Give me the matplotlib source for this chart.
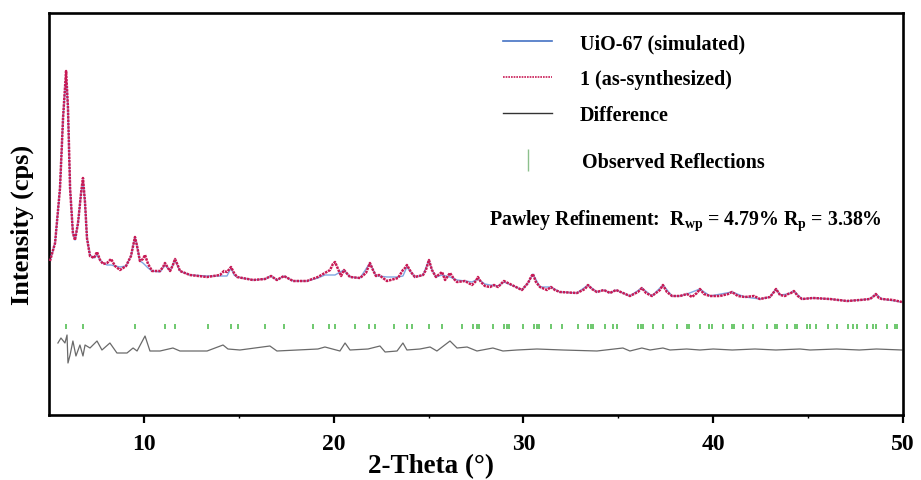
import numpy as np
import matplotlib
matplotlib.use("Agg")
import matplotlib.pyplot as plt
from matplotlib.lines import Line2D

plt.rcParams['font.family'] = ['Liberation Serif', 'DejaVu Serif']
plt.rcParams['font.weight'] = 'bold'
plt.rcParams['mathtext.fontset'] = 'custom'
plt.rcParams['mathtext.rm'] = 'Liberation Serif:bold'
plt.rcParams['mathtext.it'] = 'Liberation Serif:bold'

# observed pattern (1, as-synthesized)
obs_2theta = [5.05, 5.32, 5.58, 5.74, 5.90, 6.00, 6.11, 6.26, 6.37, 6.53,
              6.69, 6.79, 6.90, 7.00, 7.16, 7.37, 7.53, 7.69, 7.85, 8.06,
              8.27, 8.48, 8.74, 9.06, 9.32, 9.53, 9.64, 9.79, 9.95, 10.06,
              10.22, 10.43, 10.85, 11.01, 11.11, 11.27, 11.38, 11.53, 11.64, 11.80,
              11.90, 12.43, 13.33, 14.01, 14.22, 14.38, 14.59, 14.75, 14.91, 15.75,
              16.38, 16.70, 17.01, 17.38, 17.86, 18.59, 19.17, 19.54, 19.81, 19.96,
              20.07, 20.23, 20.39, 20.54, 20.86, 21.39, 21.70, 21.91, 22.07, 22.23,
              22.39, 22.81, 23.39, 23.65, 23.76, 23.86, 24.07, 24.28, 24.71, 24.86,
              25.02, 25.18, 25.39, 25.71, 25.87, 26.13, 26.34, 26.50, 26.92, 27.29,
              27.50, 27.60, 27.76, 27.97, 28.24, 28.45, 28.66, 28.97, 29.29, 29.61,
              29.92, 30.24, 30.40, 30.50, 30.66, 30.87, 31.24, 31.45, 31.66, 31.92,
              32.82, 33.24, 33.40, 33.61, 33.87, 34.24, 34.56, 34.88, 35.24, 35.61,
              36.03, 36.24, 36.46, 36.77, 37.19, 37.35, 37.56, 37.83, 38.25, 38.62,
              38.88, 39.14, 39.30, 39.51, 39.83, 40.35, 40.78, 40.99, 41.30, 41.67,
              42.15, 42.46, 42.99, 43.20, 43.31, 43.52, 43.78, 43.94, 44.10, 44.25,
              44.46, 44.68, 45.26, 46.15, 47.05, 47.73, 48.26, 48.47, 48.57, 48.73,
              48.89, 49.47, 49.94]
obs_int = [154, 172, 227, 297, 344, 307, 227, 182, 175, 192,
           222, 237, 212, 177, 159, 157, 163, 155, 151, 152,
           156, 149, 145, 149, 159, 178, 169, 154, 156, 160,
           151, 144, 144, 148, 152, 147, 144, 150, 156, 149,
           144, 140, 138, 140, 144, 143, 148, 142, 138, 135,
           136, 139, 135, 139, 134, 134, 138, 142, 145, 151,
           153, 146, 139, 145, 138, 137, 142, 152, 145, 139,
           140, 134, 137, 145, 147, 150, 143, 138, 140, 145,
           155, 145, 138, 143, 135, 142, 136, 133, 134, 130,
           134, 138, 133, 129, 128, 130, 128, 134, 131, 128,
           125, 132, 138, 141, 133, 128, 125, 128, 125, 123,
           122, 126, 130, 126, 123, 125, 122, 125, 122, 119,
           123, 127, 122, 119, 125, 130, 123, 119, 119, 121,
           118, 122, 126, 121, 119, 119, 121, 123, 119, 118,
           119, 116, 118, 123, 126, 120, 119, 121, 122, 124,
           119, 116, 117, 116, 114, 115, 116, 119, 121, 117,
           116, 115, 113]

# simulated UiO-67 pattern
sim_2theta = [5.05, 5.32, 5.58, 5.74, 5.90, 6.00, 6.11, 6.26, 6.37, 6.53,
              6.69, 6.79, 6.90, 7.00, 7.16, 7.37, 7.53, 7.69, 7.85, 8.06,
              8.27, 8.48, 8.74, 9.06, 9.32, 9.53, 9.64, 9.79, 9.95, 10.06,
              10.22, 10.43, 10.85, 11.11, 11.38, 11.64, 11.90, 12.43, 13.33, 14.01,
              14.38, 14.59, 14.75, 14.91, 15.75, 16.38, 16.70, 17.01, 17.38, 17.86,
              18.59, 19.17, 19.54, 19.81, 20.07, 20.54, 20.86, 21.39, 21.91, 22.23,
              22.39, 22.81, 23.39, 23.65, 23.86, 24.07, 24.28, 24.71, 25.02, 25.18,
              25.39, 25.71, 26.13, 26.50, 26.92, 27.29, 27.60, 27.97, 28.24, 28.66,
              28.97, 29.61, 29.92, 30.24, 30.50, 30.87, 31.45, 31.92, 32.82, 33.40,
              33.87, 34.24, 34.56, 34.88, 35.61, 36.24, 36.77, 37.35, 37.83, 38.25,
              38.62, 39.30, 39.83, 40.99, 41.67, 42.46, 42.99, 43.31, 43.52, 43.94,
              44.25, 44.68, 45.26, 46.15, 47.05, 47.73, 48.26, 48.57, 48.89, 49.94]
sim_int = [154, 172, 227, 297, 340, 307, 227, 182, 175, 192,
           222, 235, 212, 177, 160, 157, 160, 155, 152, 150,
           150, 149, 148, 149, 159, 178, 169, 154, 152, 150,
           147, 144, 143, 150, 144, 155, 144, 140, 139, 139,
           139, 147, 140, 138, 135, 136, 139, 135, 139, 134,
           134, 137, 140, 140, 140, 145, 138, 137, 152, 139,
           139, 138, 138, 139, 148, 143, 138, 140, 155, 145,
           138, 140, 138, 135, 134, 133, 136, 131, 130, 129,
           133, 128, 125, 132, 141, 128, 128, 123, 122, 130,
           123, 125, 122, 125, 119, 127, 119, 130, 119, 119,
           121, 126, 119, 123, 118, 116, 118, 126, 120, 121,
           124, 116, 117, 116, 114, 115, 116, 121, 116, 113]

# difference curve (obs - calc)
diff_2theta = [5.47, 5.63, 5.84, 5.95, 6.00, 6.11, 6.26, 6.42, 6.63, 6.79,
               6.90, 7.16, 7.53, 7.79, 8.21, 8.58, 9.11, 9.43, 9.64, 10.06,
               10.32, 10.85, 11.53, 11.90, 13.33, 14.17, 14.43, 15.06, 16.64, 17.01,
               19.17, 19.54, 20.33, 20.60, 20.86, 21.81, 22.44, 22.71, 23.34, 23.65,
               23.86, 24.55, 25.08, 25.44, 26.13, 26.50, 27.03, 27.55, 28.39, 28.92,
               29.66, 30.71, 32.08, 33.87, 35.24, 35.61, 36.24, 36.67, 37.35, 37.72,
               38.60, 39.30, 40.00, 41.00, 42.20, 43.30, 44.57, 45.10, 46.50, 47.70,
               48.60, 49.94]
diff_int = [7, 12, 7, 15, -13, -5, 9, -6, 5, -6,
            5, 2, 9, 0, 7, -3, -3, 2, -1, 14,
            -1, -1, 2, -1, -1, 5, 1, 0, 4, -1,
            1, 3, -1, 7, 0, 1, 4, -2, -1, 7,
            0, 1, 3, -1, 9, 2, 3, -1, 2, -1,
            0, 1, 0, -1, 2, -1, 2, 0, 2, 0,
            1, 0, 1, 0, 1, 0, 1, 0, 1, 0,
            1, 0]

# reflection positions
reflections = [5.90, 6.79, 9.53, 11.11, 11.64, 13.38, 14.59, 14.96, 16.38, 17.38,
               18.91, 19.75, 20.07, 21.12, 21.86, 22.18, 23.18, 23.86, 24.13, 25.02,
               25.71, 26.76, 27.34, 27.55, 27.66, 28.39, 28.97, 29.13, 29.24, 29.98,
               30.55, 30.71, 30.82, 31.45, 32.03, 32.87, 33.40, 33.56, 33.66, 34.30,
               34.72, 34.93, 36.03, 36.19, 36.30, 36.82, 37.35, 38.09, 38.62, 38.72,
               39.30, 39.78, 39.93, 40.51, 40.99, 41.09, 41.57, 42.09, 42.83, 43.25,
               43.36, 43.89, 44.31, 44.41, 44.94, 45.10, 45.41, 46.05, 46.52, 47.10,
               47.36, 47.57, 48.10, 48.42, 48.57, 49.15, 49.57, 49.68]

diff_offset = 65
refl_lo, refl_hi = 86, 91

blue = '#7fa6e2'
red = '#c81a55'
grey = '#6a6a6a'
green = '#62c462'

fig = plt.figure(figsize=(9.21, 4.81), dpi=100)
ax = fig.add_axes([49/921, 1 - 416/481, 854/921, 402/481])

ax.plot(sim_2theta, sim_int, color=blue, lw=1.0, zorder=2)
ax.plot(obs_2theta, obs_int, color=red, lw=1.8, ls=(0, (1, 0.35)), zorder=3)
ax.plot(diff_2theta, np.array(diff_int) + diff_offset, color=grey, lw=0.9, zorder=2)
ax.vlines(reflections, refl_lo, refl_hi, color=green, lw=1.3, zorder=2)

ax.set_xlim(5, 50)
ax.set_ylim(0, 402)
ax.set_yticks([])
ax.set_xticks([10, 20, 30, 40, 50])
ax.set_xticks([15, 25, 35, 45], minor=True)
ax.tick_params(axis='x', which='major', direction='out', length=6, width=1.6,
               labelsize=17, pad=7)
ax.tick_params(axis='x', which='minor', direction='out', length=2, width=1.0)
for s in ax.spines.values():
    s.set_linewidth(1.9)

ax.set_xlabel('2-Theta (°)', fontsize=19.5, fontweight='bold')
ax.xaxis.set_label_coords(0.447, -0.095)
ax.set_ylabel('Intensity (cps)', fontsize=19, fontweight='bold')
ax.yaxis.set_label_coords(-0.018, 0.475)

h1 = [Line2D([], [], color='#4472c4', lw=1.2),
      Line2D([], [], color=red, lw=1.2, ls=(0, (1, 0.6))),
      Line2D([], [], color='#333333', lw=1.0)]
leg1 = ax.legend(h1, ['UiO-67 (simulated)', '1 (as-synthesized)', 'Difference'],
                 loc='upper left', bbox_to_anchor=(0.5316, 0.950), frameon=False,
                 fontsize=14.5, handlelength=2.45, handletextpad=1.35,
                 labelspacing=0.8, borderpad=0, borderaxespad=0)
ax.add_artist(leg1)
h2 = [Line2D([], [], color='#8cc08c', marker='|', markersize=16, ls='None',
             markeredgewidth=1.0)]
ax.legend(h2, ['Observed Reflections'], loc='upper left',
          bbox_to_anchor=(0.5316, 0.654), frameon=False, fontsize=14.5,
          handlelength=2.45, handletextpad=1.45, borderpad=0, borderaxespad=0)

ax.text(0.515, 0.485, r'Pawley Refinement:  R$_{\mathrm{wp}}$ = 4.79% R$_{\mathrm{p}}$ = 3.38%',
        transform=ax.transAxes, fontsize=14.3, fontweight='bold', va='center', ha='left')

fig.savefig('out.png', dpi=100)
